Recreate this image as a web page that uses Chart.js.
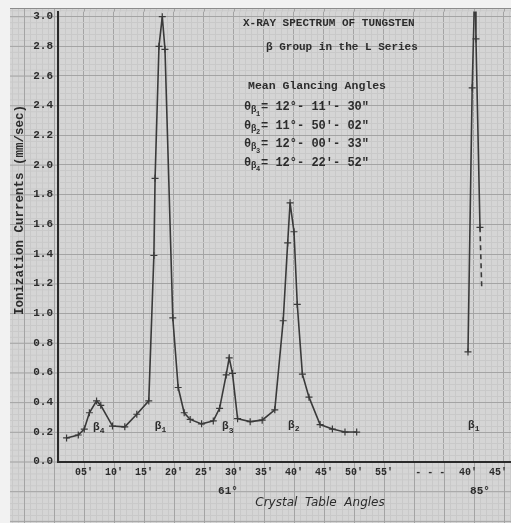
<!DOCTYPE html>
<html>
<head>
<meta charset="utf-8">
<script src="https://cdn.jsdelivr.net/npm/chart.js@4.4.1/dist/chart.umd.min.js"></script>
<style>
  html, body { margin: 0; padding: 0; background: #f2f2f2; }
  #kartka { position: relative; width: 511px; height: 523px; overflow: hidden; background: #f2f2f2; }
  /* papier milimetrowy poza polem wykresu */
  #papier {
    position: absolute; left: 10px; top: 8px; right: 0; bottom: 0;
    border-top: 1px solid #8c8c8c;
    background-color: #d5d5d5;
    background-image:
      linear-gradient(to right, #a4a4a4 1px, transparent 1px),
      linear-gradient(to bottom, #a4a4a4 1px, transparent 1px),
      linear-gradient(to right, #c9c9c9 1px, transparent 1px),
      linear-gradient(to bottom, #c9c9c9 1px, transparent 1px);
    background-size: 30px 100%, 100% 29.7px, 6px 100%, 100% 5.94px;
    background-position: 14px 0, 0 7.2px, 2px 0, 0 1.3px;
  }
  #wykres { position: absolute; left: 0; top: 0; }
</style>
</head>
<body>
<div id="kartka">
  <div id="papier"></div>
  <canvas id="wykres" width="511" height="523"></canvas>
</div>
<script>
'use strict';

/* ---------- dane ---------- */

// 61° - minuty kątowe stolika kryształu
var minuty61 = [2.1, 4.05, 5.05, 5.9, 7.1, 7.8, 9.75, 11.8, 13.8, 15.8,
  16.65, 16.85, 17.5, 18.05, 18.5, 19.8, 20.7, 21.7, 22.7, 24.6,
  26.55, 27.6, 28.7, 29.2, 29.75, 30.6, 32.7, 34.7, 36.8, 38.2,
  38.95, 39.35, 40.0, 40.55, 41.4, 42.5, 44.35, 46.4, 48.5, 50.45];
var prad61 = [0.16, 0.18, 0.22, 0.33, 0.41, 0.38, 0.24, 0.235, 0.32, 0.41,
  1.39, 1.91, 2.80, 3.00, 2.78, 0.97, 0.50, 0.33, 0.285, 0.255,
  0.275, 0.36, 0.585, 0.70, 0.595, 0.29, 0.27, 0.28, 0.35, 0.95,
  1.475, 1.745, 1.55, 1.06, 0.59, 0.435, 0.25, 0.22, 0.20, 0.20];

// 85° - minuty kątowe (linia beta 1 w drugim rzędzie)
var minuty85 = [40.0, 40.7, 41.2, 41.33, 42.0, 42.3];
var prad85 = [0.74, 2.52, 3.3, 2.85, 1.58, 1.16];

// osie
var tickiMinut61 = [5, 10, 15, 20, 25, 30, 35, 40, 45, 50, 55];
var tickiMinut85 = [40, 45];
var tickiPrzerwy = [60.7, 62.7, 64.7];           // "- - -" na osi
var tickiPradu = [0, 0.2, 0.4, 0.6, 0.8, 1.0, 1.2, 1.4, 1.6, 1.8, 2.0, 2.2, 2.4, 2.6, 2.8, 3.0];

var PRZESUNIECIE_85 = 29;   // minuty 85° przesunięte za przerwę na tej samej osi

var KOLOR_TEKSTU = '#2c2c2c';
var KOLOR_LINII = '#3a3a3a';
var PAPIER = '#d5d5d5';
var SIATKA_GLOWNA = '#a4a4a4';
var SIATKA_DROBNA = '#c9c9c9';
var MONO = 'Liberation Mono';

function formatMinut(m) {
  return (m < 10 ? '0' + m : '' + m) + "'";
}

var tickiX = tickiMinut61.concat(tickiPrzerwy, tickiMinut85.map(function (m) { return m + PRZESUNIECIE_85; }));
var etykietyX = tickiMinut61.map(formatMinut).concat(['-', '-', '-'], tickiMinut85.map(formatMinut));

var X_MIN = 0.67, X_MAX = 76.17, Y_MIN = 0, Y_MAX = 3.034;

/* ---------- napisy ---------- */

function betaZIndeksem(ctx, x, y, indeks, rozmiar) {
  ctx.font = 'bold ' + rozmiar + 'px ' + MONO;
  ctx.textAlign = 'left';
  ctx.textBaseline = 'middle';
  ctx.fillText('β', x, y);
  ctx.font = 'bold ' + Math.round(rozmiar * 0.7) + 'px ' + MONO;
  ctx.fillText(indeks, x + rozmiar * 0.62, y + rozmiar * 0.35);
}

function linijkaTheta(ctx, x, y, indeks, reszta) {
  ctx.font = 'bold 12px ' + MONO;
  ctx.textAlign = 'left';
  ctx.textBaseline = 'middle';
  ctx.fillText('θ', x, y);
  ctx.font = 'bold 9px ' + MONO;
  ctx.fillText('β', x + 7, y + 3);
  ctx.font = 'bold 7px ' + MONO;
  ctx.fillText(indeks, x + 12, y + 7);
  ctx.font = 'bold 12px ' + MONO;
  ctx.fillText(reszta, x + 17, y);
}

var etykietyPikow = [
  { indeks: '4', x: 6.5, y: 0.234 },
  { indeks: '1', x: 16.8, y: 0.24 },
  { indeks: '3', x: 28.0, y: 0.236 },
  { indeks: '2', x: 39.0, y: 0.247 },
  { indeks: '1', x: 69.0, y: 0.247 }
];

var katyTheta = [
  { indeks: '1', tekst: "= 12°- 11'- 30\"" },
  { indeks: '2', tekst: "= 11°- 50'- 02\"" },
  { indeks: '3', tekst: "= 12°- 00'- 33\"" },
  { indeks: '4', tekst: "= 12°- 22'- 52\"" }
];

var pluginPapier = {
  id: 'papier',
  beforeDraw: function (chart) {
    var a = chart.chartArea;
    var ctx = chart.ctx;
    ctx.save();
    ctx.fillStyle = PAPIER;
    ctx.fillRect(a.left, a.top, a.right - a.left, a.bottom - a.top);
    ctx.restore();
  }
};

var pluginNapisy = {
  id: 'napisy',
  afterDraw: function (chart) {
    var ctx = chart.ctx;
    var sx = chart.scales.x;
    var sy = chart.scales.y;
    ctx.save();
    ctx.fillStyle = KOLOR_TEKSTU;

    // tytuł
    ctx.textAlign = 'left';
    ctx.textBaseline = 'middle';
    ctx.font = 'bold 11px ' + MONO;
    ctx.fillText('X-RAY SPECTRUM OF TUNGSTEN', 243, 23);
    ctx.fillText('β Group in the L Series', 266, 47);
    ctx.font = 'bold 11.5px ' + MONO;
    ctx.fillText('Mean Glancing Angles', 248, 86);
    katyTheta.forEach(function (k, i) {
      linijkaTheta(ctx, 244, 107 + i * 18.5, k.indeks, k.tekst);
    });

    // etykiety pików
    ctx.fillStyle = KOLOR_TEKSTU;
    etykietyPikow.forEach(function (p) {
      betaZIndeksem(ctx, sx.getPixelForValue(p.x), sy.getPixelForValue(p.y), p.indeks, 11);
    });

    // oś Y - opis
    ctx.save();
    ctx.translate(20, 210);
    ctx.rotate(-Math.PI / 2);
    ctx.textAlign = 'center';
    ctx.textBaseline = 'middle';
    ctx.font = 'bold 12.5px ' + MONO;
    ctx.fillText('Ionization Currents (mm/sec)', 0, 0);
    ctx.restore();

    // oś X - stopnie i opis
    ctx.textAlign = 'center';
    ctx.textBaseline = 'middle';
    ctx.font = 'bold 11px ' + MONO;
    ctx.fillText('61°', sx.getPixelForValue(29), 491);
    ctx.fillText('85°', sx.getPixelForValue(42 + PRZESUNIECIE_85), 491);
    ctx.font = 'italic 12px "DejaVu Sans"';
    ctx.fillText('Crystal  Table  Angles', 320, 503);

    ctx.restore();
  }
};

function tickiCo(krok, od, doo) {
  var t = [];
  for (var v = od; v <= doo + 1e-9; v += krok) t.push({ value: Math.round(v * 1000) / 1000 });
  return t;
}

new Chart(document.getElementById('wykres'), {
  type: 'line',
  data: {
    datasets: [
      {
        label: '61°',
        data: minuty61.map(function (m, i) { return { x: m, y: prad61[i] }; }),
        borderColor: KOLOR_LINII,
        borderWidth: 1.6,
        pointStyle: 'cross',
        pointRadius: 3.5,
        pointBorderWidth: 1.2,
        pointBorderColor: KOLOR_LINII,
        tension: 0,
        fill: false
      },
      {
        label: '85°',
        data: minuty85.map(function (m, i) { return { x: m + PRZESUNIECIE_85, y: prad85[i] }; }),
        borderColor: KOLOR_LINII,
        borderWidth: 1.6,
        pointStyle: 'cross',
        pointRadius: [3.5, 3.5, 0, 3.5, 3.5, 0],
        pointBorderWidth: 1.2,
        pointBorderColor: KOLOR_LINII,
        tension: 0,
        fill: false,
        segment: {
          borderDash: function (c) { return c.p1DataIndex === prad85.length - 1 ? [5, 4] : undefined; }
        }
      }
    ]
  },
  options: {
    responsive: false,
    animation: false,
    devicePixelRatio: 1,
    layout: { autoPadding: false, padding: { top: 10.3, left: 0, right: 0, bottom: 0 } },
    plugins: { legend: { display: false }, tooltip: { enabled: false } },
    scales: {
      x: {
        type: 'linear', position: 'bottom', min: X_MIN, max: X_MAX,
        afterFit: function (s) { s.height = 61.3; s.paddingLeft = 0; s.paddingRight = 0; },
        afterBuildTicks: function (s) { s.ticks = tickiX.map(function (v) { return { value: v }; }); },
        ticks: {
          autoSkip: false, maxRotation: 0, padding: 5, color: KOLOR_TEKSTU,
          font: { family: MONO, size: 10, weight: 'bold' },
          callback: function (v, i) { return etykietyX[i]; }
        },
        grid: { display: false, drawTicks: false },
        border: { display: true, color: '#2a2a2a', width: 2 }
      },
      xSiatka: {
        type: 'linear', position: 'bottom', min: X_MIN, max: X_MAX,
        afterFit: function (s) { s.height = 0; s.paddingLeft = 0; s.paddingRight = 0; },
        afterBuildTicks: function (s) { s.ticks = tickiCo(1, 1, 76); },
        ticks: { display: false },
        grid: {
          drawTicks: false, lineWidth: 1,
          color: function (c) { return c.tick && c.tick.value % 5 === 0 ? SIATKA_GLOWNA : SIATKA_DROBNA; }
        },
        border: { display: false }
      },
      y: {
        type: 'linear', position: 'left', min: Y_MIN, max: Y_MAX,
        afterFit: function (s) { s.width = 58; },
        afterBuildTicks: function (s) { s.ticks = tickiPradu.map(function (v) { return { value: v }; }); },
        ticks: {
          padding: 5, color: KOLOR_TEKSTU,
          font: { family: MONO, size: 11, weight: 'bold' },
          callback: function (v) { return Number(v).toFixed(1); }
        },
        grid: { display: false, drawTicks: false },
        border: { display: true, color: '#2a2a2a', width: 2 }
      },
      ySiatka: {
        type: 'linear', position: 'left', min: Y_MIN, max: Y_MAX,
        afterFit: function (s) { s.width = 0; },
        afterBuildTicks: function (s) { s.ticks = tickiCo(0.04, 0.04, 3.0); },
        ticks: { display: false },
        grid: {
          drawTicks: false, lineWidth: 1,
          color: function (c) {
            if (!c.tick) return SIATKA_DROBNA;
            return Math.round(c.tick.value / 0.04) % 5 === 0 ? SIATKA_GLOWNA : SIATKA_DROBNA;
          }
        },
        border: { display: false }
      }
    }
  },
  plugins: [pluginPapier, pluginNapisy]
});
</script>
</body>
</html>
